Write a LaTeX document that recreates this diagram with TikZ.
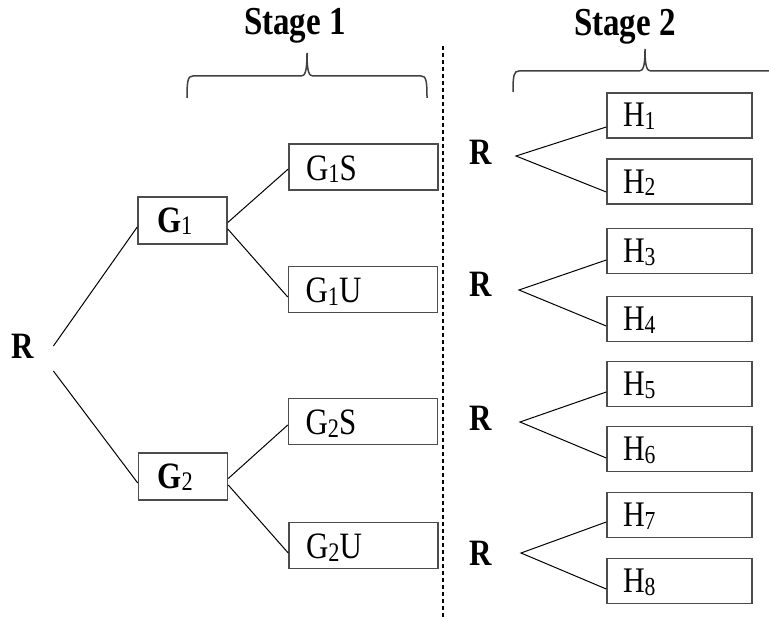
\documentclass[tikz,border=0pt]{standalone}
\usepackage{fontspec}
\setmainfont{Liberation Serif}
\usetikzlibrary{calc}
% text drawn slightly taller than wide, subscripts small and barely lowered
\newcommand\tall[1]{\scalebox{1}[1.2]{#1}}
\newcommand\lowsub[1]{\raisebox{-0.07em}{\scalebox{0.72}{#1}}}
\begin{document}
\begin{tikzpicture}[x=0.5pt,y=-0.5pt,
  box/.style={draw=black!70, line width=0.75pt, inner ysep=0pt, align=left},
  gbox/.style={box, inner xsep=9.5pt, text width=25.5pt, text height=17.5pt, text depth=6pt,
    font=\fontsize{15.5}{18}\selectfont},
  sbox/.style={box, inner xsep=8.5pt, text width=57.5pt, text height=18pt, text depth=5pt,
    font=\fontsize{15.5}{18}\selectfont},
  hbox/.style={box, inner xsep=8pt, text width=56.5pt, text height=17pt, text depth=5.5pt,
    font=\fontsize{15}{18}\selectfont},
  rlbl/.style={font=\fontsize{15.5}{18}\selectfont\bfseries, inner ysep=0pt},
  stagelbl/.style={font=\fontsize{16.5}{20}\selectfont\bfseries, anchor=base, inner sep=0pt},
  conn/.style={line width=0.5pt, black},
  brace/.style={line width=0.75pt, black!75},
  divider/.style={line width=0.6pt, black, dash pattern=on 2pt off 1.5pt}]
\useasboundingbox (0,0) rectangle (769,620);

% stage headings and braces
\node[stagelbl] (st1) at (295,35) {\tall{Stage 1}};
\node[stagelbl] (st2) at (625,36) {\tall{Stage 2}};
\draw[brace] (187,98) .. controls (187,80) and (188,76) .. (193,76) -- (301,76)
  .. controls (305,76) and (307,72) .. (307,53)
  .. controls (307,72) and (309,76) .. (313,76) -- (421,76)
  .. controls (426,76) and (427,80) .. (427,98);
\draw[brace] (513,92) .. controls (513,75) and (514,71) .. (519,71) -- (639,71)
  .. controls (643,71) and (645,67) .. (645,49)
  .. controls (645,67) and (647,71) .. (651,71) -- (769,71);

% dividing line between the stages
\coordinate (dtop) at (443,46);
\coordinate (dbot) at (443,620);
\draw[divider] (dtop) -- (dbot);

% stage 1 tree
\node[rlbl, inner xsep=9.4pt] (R) at (23,346) {\tall{R}};
\node[gbox] (G1) at (182.5,220.5) {\tall{\textbf{G}\lowsub{1}}};
\node[gbox] (G2) at (183,476.5) {\tall{\textbf{G}\lowsub{2}}};
\node[sbox] (G1S) at (363.5,167) {\tall{G\lowsub{1}S}};
\node[sbox] (G1U) at (363,289.5) {\tall{G\lowsub{1}U}};
\node[sbox] (G2S) at (363,421.5) {\tall{G\lowsub{2}S}};
\node[sbox] (G2U) at (363.5,545.5) {\tall{G\lowsub{2}U}};

\draw[conn] (R.east) -- ([yshift=-3.25pt]G1.west);
\draw[conn] ([yshift=-12.5pt]R.east) -- ([yshift=-3.25pt]G2.west);
\draw[conn] ([yshift=-1pt]G1.east) -- ([yshift=-1pt]G1S.west);
\draw[conn] ([yshift=-4.25pt]G1.east) -- ([yshift=-3.75pt]G1U.west);
\draw[conn] ([yshift=-1pt]G2.east) -- ([yshift=-1.75pt]G2S.west);
\draw[conn] ([yshift=-4.25pt]G2.east) -- ([yshift=-3.75pt]G2U.west);

% stage 2 branches
\node[rlbl] (R1) at (480.5,152) {\tall{R}};
\node[rlbl] (R2) at (480.5,284) {\tall{R}};
\node[rlbl] (R3) at (480.5,418) {\tall{R}};
\node[rlbl] (R4) at (480.5,553) {\tall{R}};

\foreach \i/\y in {1/115.5,2/181.5,3/251,4/319,5/384,6/449,7/515,8/581}
  \node[hbox] (H\i) at (679.5,\y) {\tall{H\lowsub{\i}}};

\coordinate (b1) at (516,156);
\coordinate (b2) at (519,290);
\coordinate (b3) at (520,422);
\coordinate (b4) at (521,553);

\draw[conn] ([yshift=-5.75pt]H1.west) -- (b1) -- ([yshift=-5.25pt]H2.west);
\draw[conn] ([yshift=-4.5pt]H3.west) -- (b2) -- ([yshift=-3.5pt]H4.west);
\draw[conn] ([yshift=-4pt]H5.west) -- (b3) -- ([yshift=-4.5pt]H6.west);
\draw[conn] ([yshift=-3.5pt]H7.west) -- (b4) -- ([yshift=-4pt]H8.west);
\end{tikzpicture}
\end{document}
